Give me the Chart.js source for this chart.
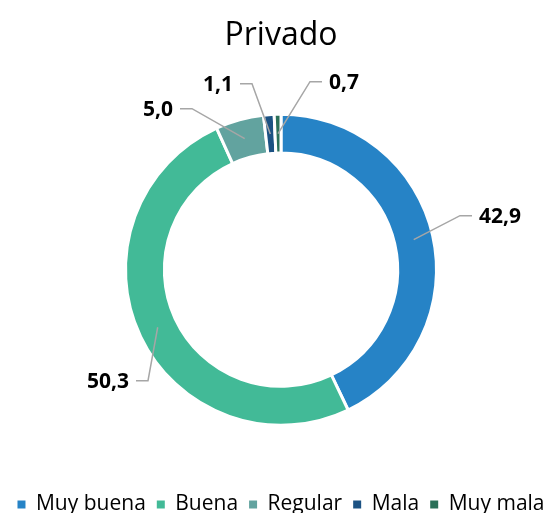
<!DOCTYPE html>
<html>
<head>
<meta charset="utf-8">
<script src="https://cdn.jsdelivr.net/npm/chart.js@4.4.0/dist/chart.umd.min.js"></script>
<style>
  html, body { margin: 0; padding: 0; background: #fff; }
  #wrap { width: 560px; height: 513px; }
</style>
</head>
<body>
<div id="wrap"><canvas id="chart"></canvas></div>
<script>
const categories = ['Muy buena', 'Buena', 'Regular', 'Mala', 'Muy mala'];
const values = [42.9, 50.3, 5.0, 1.1, 0.7];
const colors = ['#2683C6', '#42BA97', '#62A39F', '#1C5283', '#2A7058'];
const chartTitle = 'Privado';

// where each label sits, relative to the doughnut centre (elbow of the leader line)
const labelPlace = [
    { dx: 179, dy: -54, side: 1 },
    { dx: -133, dy: 111, side: -1 },
    { dx: -89, dy: -161, side: -1 },
    { dx: -29, dy: -186, side: -1 },
    { dx: 29, dy: -188, side: 1 }
];

const fmt = v => v.toFixed(1).replace('.', ',');

// leader lines + bold value labels
const leaderLabels = {
    id: 'leaderLabels',
    afterDatasetsDraw(chart) {
        const ctx = chart.ctx;
        const meta = chart.getDatasetMeta(0);
        ctx.save();
        meta.data.forEach((arc, i) => {
            const p = arc.getProps(['x', 'y', 'startAngle', 'endAngle', 'innerRadius', 'outerRadius'], true);
            const mid = (p.startAngle + p.endAngle) / 2;
            const r = (p.innerRadius + p.outerRadius) / 2;
            const ax = p.x + Math.cos(mid) * r;
            const ay = p.y + Math.sin(mid) * r;
            const pl = labelPlace[i];
            const ex = p.x + pl.dx;
            const ey = p.y + pl.dy;
            const hx = ex + pl.side * 12;
            ctx.strokeStyle = '#A6A6A6';
            ctx.lineWidth = 1.5;
            ctx.beginPath();
            ctx.moveTo(ax, ay);
            ctx.lineTo(ex, ey);
            ctx.lineTo(hx, ey);
            ctx.stroke();
            ctx.fillStyle = '#000';
            ctx.font = 'bold 21px "Open Sans"';
            ctx.textBaseline = 'middle';
            ctx.textAlign = pl.side > 0 ? 'left' : 'right';
            ctx.fillText(fmt(values[i]), hx + pl.side * 7, ey + 1);
        });
        ctx.restore();
    }
};

new Chart(document.getElementById('chart'), {
    type: 'doughnut',
    data: {
        labels: categories,
        datasets: [{
            data: values,
            backgroundColor: colors,
            borderColor: '#fff',
            borderWidth: 3,
            hoverOffset: 0
        }]
    },
    options: {
        responsive: true,
        maintainAspectRatio: false,
        animation: false,
        radius: 155.5,
        cutout: '75%',
        layout: { padding: { left: 2, right: 0, top: 0, bottom: -12 } },
        plugins: {
            title: {
                display: true,
                text: chartTitle,
                color: '#000',
                font: { family: '"Open Sans"', size: 32, weight: 'normal' },
                padding: { top: 17, bottom: 1 }
            },
            legend: {
                position: 'bottom',
                labels: {
                    color: '#000',
                    font: { family: '"Open Sans"', size: 21 },
                    boxWidth: 8,
                    boxHeight: 8,
                    padding: 11,
                    generateLabels(chart) {
                        const items = Chart.controllers.doughnut.overrides.plugins.legend.labels.generateLabels(chart);
                        return items.map(it => ({ ...it, lineWidth: 0, strokeStyle: it.fillStyle }));
                    }
                }
            },
            tooltip: { enabled: false }
        }
    },
    plugins: [leaderLabels]
});
</script>
</body>
</html>
